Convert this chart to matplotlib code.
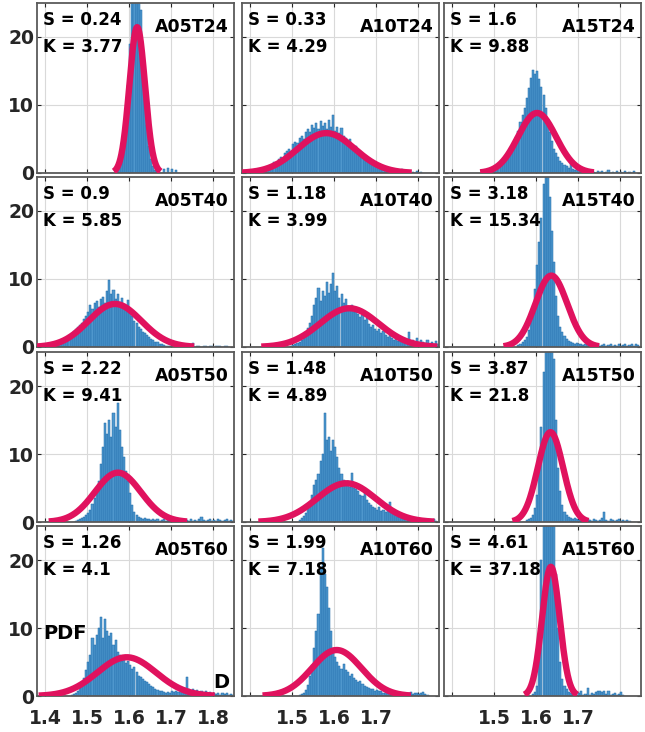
import numpy as np
import matplotlib
matplotlib.use("Agg")
import matplotlib.pyplot as plt

plt.rcParams['font.family'] = ['DejaVu Sans']
plt.rcParams['font.weight'] = 'bold'

BW = 0.005  # histogram bin width

names = [["A05T24", "A10T24", "A15T24"],
         ["A05T40", "A10T40", "A15T40"],
         ["A05T50", "A10T50", "A15T50"],
         ["A05T60", "A10T60", "A15T60"]]
skew = [["0.24", "0.33", "1.6"],
        ["0.9", "1.18", "3.18"],
        ["2.22", "1.48", "3.87"],
        ["1.26", "1.99", "4.61"]]
kurt = [["3.77", "4.29", "9.88"],
        ["5.85", "3.99", "15.34"],
        ["9.41", "4.89", "21.8"],
        ["4.1", "7.18", "37.18"]]

# fitted normal parameters (mean, std)
mu = [[1.619, 1.581, 1.602],
      [1.566, 1.636, 1.636],
      [1.573, 1.629, 1.634],
      [1.594, 1.606, 1.635]]
sd = [[0.0186, 0.068, 0.0452],
      [0.063, 0.070, 0.038],
      [0.055, 0.070, 0.0302],
      [0.070, 0.059, 0.021]]

# histogram pdf heights, first bin left edge in h_start
h_start = [[1.570, 1.405, 1.470],
           [1.420, 1.495, 1.555],
           [1.470, 1.515, 1.575],
           [1.460, 1.515, 1.590]]

h_a05t24 = [1, 2, 3, 5, 8, 13, 19, 26, 27, 26, 27, 24, 18, 12, 7, 4, 2, 1, 0.5, 0.5,
            0, 0, 0.6, 0, 0.8, 0, 0.6, 0, 0.5]
h_a10t24 = [0.2, 0.3, 0.4, 0.5, 0.6, 0.6, 0.8, 1.0, 1.1, 1.2, 1.6, 1.5, 2.0, 2.3, 2.1,
            2.9, 3.2, 3.6, 3.3, 4.2, 4.6, 4.4, 5.2, 5.5, 5.0, 6.1, 6.5, 6.0, 7.1, 6.6,
            7.3, 6.4, 7.6, 6.9, 7.4, 6.5, 7.8, 6.8, 8.5, 6.2, 6.7, 5.9, 6.6, 5.4, 5.2,
            4.6, 5.0, 4.0, 3.6, 3.9, 3.0, 3.3, 2.5, 2.2, 2.4, 1.8, 1.6, 1.5, 1.2, 1.1,
            1.0, 0.7, 0.8, 0.5, 0.4, 0.5, 0.3, 0.2, 0.3, 0.1, 0.2, 0.6, 0.2, 0.0, 0.3,
            0.0, 0.2, 0.0, 0.3, 0.0, 0.2]
h_a15t24 = [0.2, 0.0, 0.2, 0.3, 0.2, 0.4, 0.5, 0.7, 0.9, 1.2, 1.6, 2.0, 2.6, 3.3, 3.8,
            4.5, 5.3, 6.2, 7.5, 8.6, 9.5, 11.0, 12.5, 14.0, 15.2, 14.5, 15.0, 13.8, 12.6,
            11.5, 9.5, 7.8, 6.0, 4.7, 3.6, 3.0, 2.3, 1.8, 1.5, 1.2, 1.0, 0.8, 1.6, 0.6,
            0.5, 1.2, 0.4, 0.3, 0.5, 0.2, 0.3, 0.2, 0.4, 0.2, 0.0, 0.3, 0.1, 0.3, 0.0,
            0.2, 0.4, 0.0, 0.2, 0.0, 0.3, 0.0, 0.2, 0.0, 0.3, 0.0, 0.2, 0.0, 0.3]
h_a05t40 = [0.2, 0.4, 0.5, 0.8, 0.9, 1.2, 1.5, 1.8, 2.1, 2.3, 2.6, 2.9, 3.2, 3.6, 4.1,
            4.5, 5.2, 6.2, 5.6, 6.4, 6.8, 5.9, 7.0, 7.3, 6.5, 8.2, 9.9, 7.8, 8.4, 7.1,
            7.8, 6.6, 7.2, 6.3, 5.8, 6.9, 5.1, 4.5, 3.8, 3.6, 3.0, 2.6, 2.2, 2.0, 1.7,
            1.5, 1.2, 1.0, 0.8, 0.7, 0.5, 0.4, 0.3, 0.2, 0.2, 0.1, 0.2, 0.0, 0.1, 0.0,
            0.1, 0.0, 0.1, 0.0, 0.2, 0.0, 0.6, 0.0, 0.1, 0.1, 0.0, 0.1, 0.1, 0.0, 0.1,
            0.1, 0.0, 0.1, 0.1, 0.1, 0.0, 0.1, 0.1]
h_a10t40 = [0.2, 0.3, 0.4, 0.6, 0.8, 1.0, 1.5, 2.2, 2.8, 3.6, 4.5, 6.2, 7.2, 8.7, 6.8,
            8.3, 7.5, 9.6, 8.0, 9.3, 10.9, 8.2, 9.0, 7.2, 7.8, 6.5, 7.0, 6.0, 5.8, 6.2,
            5.1, 5.5, 4.8, 4.4, 4.7, 3.9, 4.3, 3.4, 3.0, 3.3, 2.7, 2.4, 2.6, 2.1, 2.3,
            1.8, 1.5, 1.7, 1.3, 1.1, 1.2, 0.9, 1.0, 0.8, 1.2, 0.7, 2.2, 0.8, 1.0, 0.6,
            1.3, 0.7, 1.1, 0.8, 0.6, 1.0, 0.5, 0.7, 0.4, 0.9, 0.5]
h_a15t40 = [0.3, 0.5, 0.7, 1.0, 1.5, 2.5, 3.8, 5.5, 8.5, 12.0, 15.5, 19.0, 24.0, 28.0,
            27.0, 22.0, 17.0, 12.5, 7.5, 4.5, 3.0, 2.2, 1.6, 1.2, 0.9, 0.7, 0.6, 0.5,
            0.6, 0.4, 0.5, 0.3, 0.4, 0.5, 0.3, 0.2, 0.4, 0.3, 0.5, 0.2, 0.3, 0.4, 0.2,
            0.3, 0.5, 0.2, 0.3, 0.2, 0.4, 0.2, 0.3, 0.5, 0.2, 0.3, 0.4, 0.2, 0.5, 0.3]
h_a05t50 = [0.2, 0.3, 0.4, 0.6, 0.8, 1.0, 1.3, 1.8, 2.6, 3.5, 4.5, 6.0, 8.5, 11.0, 14.5,
            13.0, 15.0, 12.5, 16.0, 14.0, 17.5, 13.5, 11.0, 9.5, 7.5, 6.0, 4.2, 2.5, 1.5,
            1.0, 0.8, 0.6, 0.5, 0.6, 0.4, 0.5, 0.3, 0.4, 0.3, 0.5, 0.2, 0.3, 0.4, 0.2,
            0.3, 0.5, 0.2, 0.3, 0.2, 0.4, 0.2, 0.3, 0.2, 0.3, 0.2, 0.4, 0.2, 0.3, 0.2,
            0.4, 0.8, 0.3, 0.2, 0.3, 0.4, 0.2, 0.3, 0.2, 0.4, 0.3, 0.2, 0.3, 0.4, 0.2,
            0.3, 0.2]
h_a10t50 = [0.3, 0.6, 0.9, 1.3, 2.0, 3.0, 4.0, 5.5, 6.2, 7.0, 9.0, 10.0, 16.0, 12.0,
            12.5, 10.5, 12.0, 11.0, 9.5, 8.0, 7.0, 6.2, 5.5, 6.0, 5.2, 7.2, 5.0, 4.8,
            4.5, 4.0, 3.8, 4.2, 3.2, 2.8, 2.5, 2.2, 2.0, 1.8, 2.2, 1.6, 1.8, 1.4, 2.5,
            3.0, 1.5, 1.2, 1.0, 0.8, 1.0, 0.6, 0.5, 0.4, 0.5, 0.3, 0.4, 0.3, 0.3, 0.4,
            0.2, 0.3, 0.2, 0.4, 0.2, 0.3, 0.5, 0.2]
h_a15t50 = [0.3, 0.4, 0.6, 1.0, 2.0, 4.0, 8.0, 14.0, 22.0, 28.0, 30.0, 29.0, 28.0, 24.0,
            15.0, 8.0, 4.5, 2.5, 1.5, 1.0, 0.8, 0.6, 0.5, 0.6, 0.4, 0.3, 0.5, 0.3, 0.2,
            0.4, 0.3, 0.2, 0.5, 0.3, 0.2, 0.3, 0.6, 1.5, 0.3, 0.2, 0.4, 0.3, 0.2, 0.3,
            0.4, 0.2, 0.3, 0.2, 0.3, 0.2]
h_a05t60 = [0.2, 0.3, 0.5, 0.8, 1.2, 1.8, 2.6, 3.8, 5.0, 6.0, 8.5, 7.5, 9.0, 10.0, 11.6,
            8.5, 11.3, 9.5, 8.8, 9.2, 7.5, 8.2, 6.5, 6.0, 5.2, 5.5, 4.8, 5.2, 4.5, 4.0,
            4.2, 3.5, 3.0, 2.8, 2.5, 2.2, 2.0, 1.8, 1.5, 1.3, 1.1, 0.9, 0.8, 0.7, 0.6,
            0.5, 0.6, 0.5, 0.7, 0.6, 0.8, 0.6, 1.0, 0.8, 1.2, 2.8, 1.0, 0.8, 1.1, 0.7,
            0.9, 0.6, 0.8, 0.5, 0.7, 0.4, 0.6, 0.3, 0.5, 0.3, 0.4, 0.2, 0.5, 0.3, 0.4,
            0.2, 0.3, 0.2]
h_a10t60 = [0.2, 0.3, 0.5, 0.9, 1.6, 3.0, 4.5, 7.0, 9.5, 12.0, 19.0, 21.7, 18.0, 16.0,
            13.0, 9.5, 7.0, 5.8, 5.0, 4.4, 4.0, 4.7, 3.8, 3.5, 3.0, 3.2, 2.6, 2.4, 2.0,
            2.2, 1.7, 1.5, 1.3, 1.2, 1.0, 1.1, 0.8, 0.9, 0.7, 0.8, 0.5, 0.6, 0.4, 0.5,
            0.3, 0.6, 0.3, 0.4, 0.5, 0.3, 0.5, 0.3, 0.4, 0.6, 0.3, 0.4, 0.5, 0.3, 0.4,
            0.6, 0.3, 0.2]
h_a15t60 = [0.3, 0.6, 1.5, 6.0, 20.0, 28.0, 31.0, 32.0, 31.0, 30.0, 27.0, 18.0, 10.0,
            5.0, 2.5, 1.5, 1.0, 0.6, 0.4, 0.3, 0.5, 0.2, 0.4, 0.8, 0.2, 0.3, 1.2, 0.2,
            0.4, 0.3, 0.6, 0.8, 0.7, 0.6, 0.8, 0.3, 0.7, 0.2, 0.3, 0.5, 0.2, 0.3, 0.6,
            0.2]

heights = [[h_a05t24, h_a10t24, h_a15t24],
           [h_a05t40, h_a10t40, h_a15t40],
           [h_a05t50, h_a10t50, h_a15t50],
           [h_a05t60, h_a10t60, h_a15t60]]

xticks = [1.4, 1.5, 1.6, 1.7, 1.8]
yticks = [0, 10, 20]

W, H = 645, 732
fig = plt.figure(figsize=(W / 100, H / 100), dpi=100)

col_left = [37, 242, 444]
col_w = 197
row_top = [3, 177, 352, 526]
row_h = 170

for r in range(4):
    for c in range(3):
        ax = fig.add_axes([col_left[c] / W, 1 - (row_top[r] + row_h) / H,
                           col_w / W, row_h / H])
        h = np.array(heights[r][c])
        edges = h_start[r][c] + BW * np.arange(len(h))
        ax.bar(edges, h, width=BW, align='edge', color='#4f97cd',
               edgecolor='#1d6aa8', linewidth=0.35, zorder=2)
        m, s = mu[r][c], sd[r][c]
        xs = np.linspace(m - 3 * s, m + 3 * s, 200)
        ys = np.exp(-0.5 * ((xs - m) / s) ** 2) / (s * np.sqrt(2 * np.pi))
        ax.plot(xs, ys, color='#e0125e', lw=4.6, solid_capstyle='butt', zorder=3)

        ax.set_xlim(1.38, 1.85)
        ax.set_ylim(0, 25)
        ax.set_xticks(xticks)
        ax.set_yticks(yticks)
        ax.grid(True, color='#d9d9d9', lw=0.8, zorder=0)
        ax.set_axisbelow(True)
        ax.tick_params(direction='in', length=3, width=0.8, top=True, right=True,
                       colors='#262626', labelsize=13.5, pad=2)
        for sp in ax.spines.values():
            sp.set_color('#5a5a5a')
            sp.set_linewidth(1.3)
        if c == 0:
            ax.set_yticklabels([str(v) for v in yticks])
        else:
            ax.set_yticklabels([])
        if r == 3:
            if c == 0:
                labs = ['1.4', '1.5', '1.6', '1.7', '1.8']
            else:
                labs = ['', '1.5', '1.6', '1.7', '']
            ax.set_xticklabels(labs, fontsize=13.5)
            ax.tick_params(axis='x', pad=9)
        else:
            ax.set_xticklabels([])

        ax.text(0.03, 0.87, "S = " + skew[r][c], transform=ax.transAxes,
                fontsize=12, fontweight='bold', va='baseline', ha='left')
        ax.text(0.03, 0.71, "K = " + kurt[r][c], transform=ax.transAxes,
                fontsize=12, fontweight='bold', va='baseline', ha='left')
        ax.text(0.975, 0.83, names[r][c], transform=ax.transAxes,
                fontsize=12.5, fontweight='bold', va='baseline', ha='right')
        if r == 3 and c == 0:
            ax.text(0.03, 0.335, "PDF", transform=ax.transAxes, fontsize=14,
                    fontweight='bold', va='baseline', ha='left')
            ax.text(0.975, 0.047, "D", transform=ax.transAxes, fontsize=14,
                    fontweight='bold', va='baseline', ha='right')

fig.savefig("out.png", dpi=100)
